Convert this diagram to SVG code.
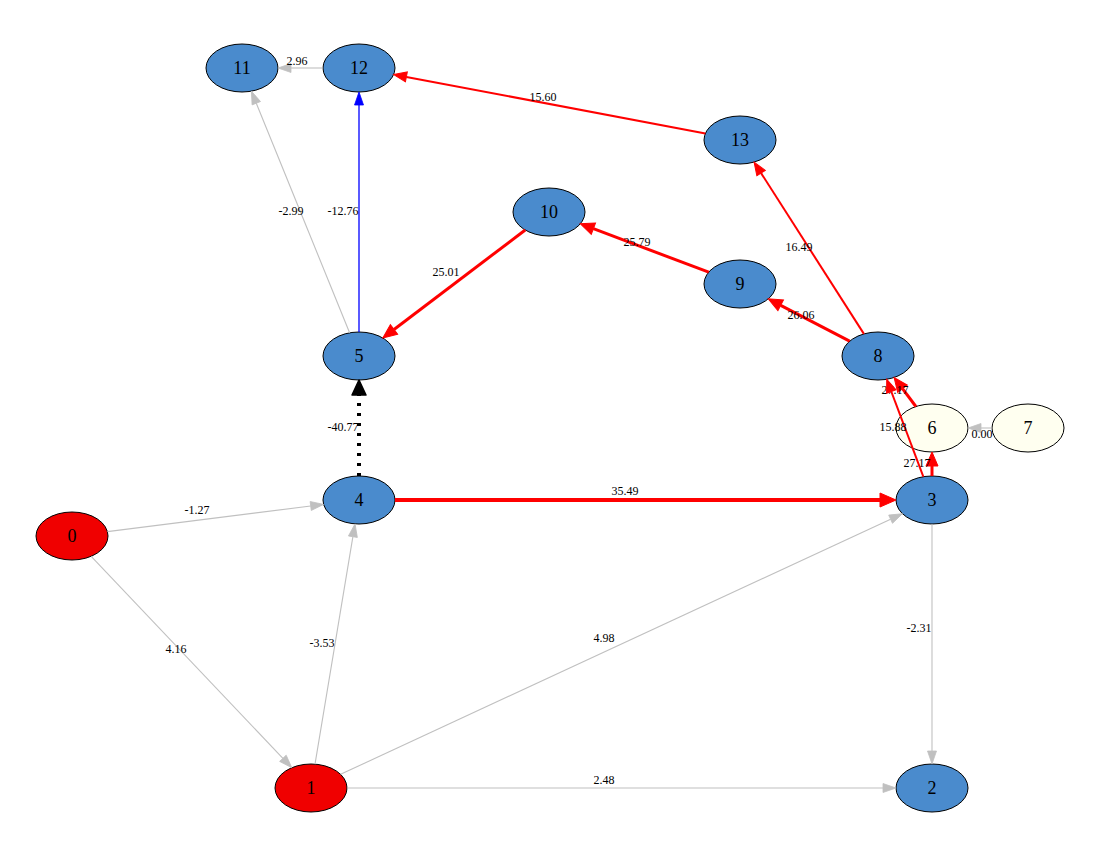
<svg xmlns="http://www.w3.org/2000/svg" width="1094" height="849" viewBox="0 0 1094 849">
<style>
  .node ellipse { stroke: #000000; stroke-width: 1; }
  .blue ellipse { fill: #4a8bcd; }
  .red ellipse { fill: #f00000; }
  .ivory ellipse { fill: #fffff0; }
  .node text { font-family: "Liberation Serif", "Times New Roman", serif; font-size: 18px; text-anchor: middle; fill: #000000; }
  .lbl { font-family: "Liberation Serif", "Times New Roman", serif; font-size: 12px; text-anchor: middle; fill: #000000; }
  .e { fill: none; }
  .gray { stroke: #c0c0c0; stroke-width: 1.1; marker-end: url(#aGray); }
  .blu { stroke: #0000ff; stroke-width: 1.3; marker-end: url(#aBlue); }
  .r2 { stroke: #ff0000; stroke-width: 2; marker-end: url(#aR2); }
  .r3 { stroke: #ff0000; stroke-width: 3; marker-end: url(#aR3); }
  .r4 { stroke: #ff0000; stroke-width: 4; marker-end: url(#aR4); }
  .blk { stroke: #000000; stroke-width: 4; stroke-dasharray: 3 7; marker-end: url(#aBlk); }
</style>
<defs>
  <marker id="aGray" markerUnits="userSpaceOnUse" orient="auto" refX="0" refY="0" markerWidth="40" markerHeight="40" viewBox="-5 -20 40 40" overflow="visible">
    <path d="M0,-4.5 L13,0 L0,4.5 Z" fill="#c0c0c0" stroke="#c0c0c0" stroke-width="0.8"/>
  </marker>
  <marker id="aBlue" markerUnits="userSpaceOnUse" orient="auto" refX="0" refY="0" markerWidth="40" markerHeight="40" viewBox="-5 -20 40 40" overflow="visible">
    <path d="M0,-4.5 L13,0 L0,4.5 Z" fill="#0000ff" stroke="#0000ff" stroke-width="0.8"/>
  </marker>
  <marker id="aR2" markerUnits="userSpaceOnUse" orient="auto" refX="0" refY="0" markerWidth="40" markerHeight="40" viewBox="-5 -20 40 40" overflow="visible">
    <path d="M0,-5 L13,0 L0,5 Z" fill="#ff0000" stroke="#ff0000" stroke-width="1"/>
  </marker>
  <marker id="aR3" markerUnits="userSpaceOnUse" orient="auto" refX="0" refY="0" markerWidth="40" markerHeight="40" viewBox="-5 -20 40 40" overflow="visible">
    <path d="M0,-6 L14,0 L0,6 Z" fill="#ff0000" stroke="#ff0000" stroke-width="1"/>
  </marker>
  <marker id="aR4" markerUnits="userSpaceOnUse" orient="auto" refX="0" refY="0" markerWidth="40" markerHeight="40" viewBox="-5 -20 40 40" overflow="visible">
    <path d="M0,-7 L16,0 L0,7 Z" fill="#ff0000" stroke="#ff0000" stroke-width="1"/>
  </marker>
  <marker id="aBlk" markerUnits="userSpaceOnUse" orient="auto" refX="0" refY="0" markerWidth="40" markerHeight="40" viewBox="-5 -20 40 40" overflow="visible">
    <path d="M0,-7 L15,0 L0,7 Z" fill="#000000" stroke="#000000" stroke-width="1.5" stroke-linejoin="round"/>
  </marker>
</defs>
<rect x="0" y="0" width="1094" height="849" fill="#ffffff"/>

<g id="nodes">
  <g id="node0" class="node red"><ellipse cx="72" cy="536" rx="36" ry="24"/><text x="72" y="542">0</text></g>
  <g id="node1" class="node red"><ellipse cx="311" cy="788" rx="36" ry="24"/><text x="311" y="794">1</text></g>
  <g id="node2" class="node blue"><ellipse cx="932" cy="788" rx="36" ry="24"/><text x="932" y="794">2</text></g>
  <g id="node3" class="node blue"><ellipse cx="932" cy="500" rx="36" ry="24"/><text x="932" y="506">3</text></g>
  <g id="node4" class="node blue"><ellipse cx="359" cy="500" rx="36" ry="24"/><text x="359" y="506">4</text></g>
  <g id="node5" class="node blue"><ellipse cx="359" cy="356" rx="36" ry="24"/><text x="359" y="362">5</text></g>
  <g id="node6" class="node ivory"><ellipse cx="932" cy="428" rx="36" ry="24"/><text x="932" y="434">6</text></g>
  <g id="node7" class="node ivory"><ellipse cx="1028" cy="428" rx="36" ry="24"/><text x="1028" y="434">7</text></g>
  <g id="node8" class="node blue"><ellipse cx="878" cy="356" rx="36" ry="24"/><text x="878" y="362">8</text></g>
  <g id="node9" class="node blue"><ellipse cx="740" cy="284" rx="36" ry="24"/><text x="740" y="290">9</text></g>
  <g id="node10" class="node blue"><ellipse cx="549" cy="212" rx="36" ry="24"/><text x="549" y="218">10</text></g>
  <g id="node11" class="node blue"><ellipse cx="242" cy="68" rx="36" ry="24"/><text x="242" y="74">11</text></g>
  <g id="node12" class="node blue"><ellipse cx="359" cy="68" rx="36" ry="24"/><text x="359" y="74">12</text></g>
  <g id="node13" class="node blue"><ellipse cx="740" cy="140" rx="36" ry="24"/><text x="740" y="146">13</text></g>
</g>

<g id="connectors">
  <g id="e12_11"><path class="e gray" d="M323,68 L291,68"/><text class="lbl" x="297" y="65">2.96</text></g>
  <g id="e5_11"><path class="e gray" d="M349.6,332.8 L256.3,103.2"/><text class="lbl" x="291" y="215">-2.99</text></g>
  <g id="e5_12"><path class="e blu" d="M359,332 L359,105"/><text class="lbl" x="343" y="215">-12.76</text></g>
  <g id="e13_12"><path class="e r2" d="M705.4,133.5 L406.4,76.9"/><text class="lbl" x="543" y="101">15.60</text></g>
  <g id="e10_5"><path class="e r3" d="M525.2,230 L394,329.5"/><text class="lbl" x="446" y="276">25.01</text></g>
  <g id="e9_10"><path class="e r3" d="M708.7,272.2 L593.4,228.7"/><text class="lbl" x="637" y="246">25.79</text></g>
  <g id="e8_9"><path class="e r3" d="M849.6,341.2 L780.7,305.3"/><text class="lbl" x="801" y="319">26.06</text></g>
  <g id="e8_13"><path class="e r2" d="M863.9,333.9 L761.1,173.1"/><text class="lbl" x="799" y="251">16.49</text></g>
  <g id="e6_8"><path class="e r3" d="M915.9,406.5 L902.5,388.7"/><text class="lbl" x="895" y="394">27.17</text></g>
  <g id="e3_8"><path class="e r2" d="M923.3,476.7 L891.3,391.5"/><text class="lbl" x="893" y="431">15.88</text></g>
  <g id="e3_6"><path class="e r3" d="M932,476 L932,466"/><text class="lbl" x="917" y="467">27.17</text></g>
  <g id="e7_6"><path class="e gray" d="M992,428 L981,428"/><text class="lbl" x="982" y="438">0.00</text></g>
  <g id="e4_5"><path class="e blk" d="M359,476 L359,395"/><text class="lbl" x="343" y="431">-40.77</text></g>
  <g id="e4_3"><path class="e r4" d="M395,500 L880,500"/><text class="lbl" x="625" y="495">35.49</text></g>
  <g id="e0_4"><path class="e gray" d="M107.4,531.6 L310.7,506"/><text class="lbl" x="197" y="514">-1.27</text></g>
  <g id="e0_1"><path class="e gray" d="M91.2,556.3 L282.9,758.3"/><text class="lbl" x="176" y="653">4.16</text></g>
  <g id="e1_4"><path class="e gray" d="M315,764.2 L352.9,536.7"/><text class="lbl" x="322" y="647">-3.53</text></g>
  <g id="e1_3"><path class="e gray" d="M340.6,774.3 L890.6,519.2"/><text class="lbl" x="604" y="642">4.98</text></g>
  <g id="e1_2"><path class="e gray" d="M347,788 L883,788"/><text class="lbl" x="604" y="784">2.48</text></g>
  <g id="e3_2"><path class="e gray" d="M932,524 L932,751"/><text class="lbl" x="919" y="632">-2.31</text></g>
</g>
</svg>
